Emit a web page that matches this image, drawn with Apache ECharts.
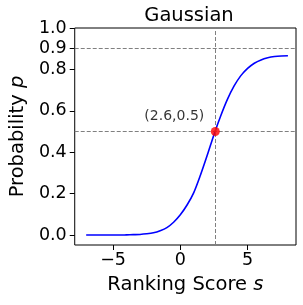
<!DOCTYPE html>
<html>
<head>
<meta charset="utf-8">
<script src="https://cdn.jsdelivr.net/npm/echarts@6/dist/echarts.min.js"></script>
<style>html,body{margin:0;padding:0;background:#fff;}#c{width:303px;height:305px;}</style>
</head>
<body>
<div id="c"></div>
<script>
const xs = [-7,-6.5,-6,-5.5,-5,-4.5,-4,-3.5,-3,-2.5,-2,-1.5,-1,-0.5,0,0.5,1,1.5,2,2.5,3,3.5,4,4.5,5,5.5,6,6.5,7,7.5,8];
const ps = [0,0,0,0,0,0,0.001,0.002,0.003,0.006,0.011,0.021,0.036,0.062,0.098,0.145,0.205,0.29,0.385,0.485,0.575,0.655,0.72,0.77,0.805,0.83,0.846,0.856,0.862,0.865,0.866];
const point = [2.6, 0.5];
const hLines = [0.5, 0.9];
const vLines = [2.6];
const xTicks = [-5, 0, 5];
const yTicks = [0, 0.2, 0.4, 0.6, 0.8, 0.9, 1.0];

const font = 'DejaVu Sans';
const chart = echarts.init(document.getElementById('c'), null, {renderer: 'canvas'});
chart.setOption({
  animation: false,
  title: {text: 'Gaussian', left: 184, top: 1, textAlign: 'center',
    textStyle: {fontFamily: font, fontSize: 19.5, fontWeight: 'normal', color: '#000'}},
  grid: {left: 73, right: 7, top: 28, bottom: 60, show: true, borderColor: '#000', borderWidth: 1, backgroundColor: 'transparent'},
  xAxis: {
    type: 'value', min: -7.85, max: 8.6,
    name: '{a|Ranking Score }{b|s}', nameLocation: 'middle', nameGap: 30,
    nameTextStyle: {rich: {a: {fontFamily: font, fontSize: 19.5, color: '#000'}, b: {fontFamily: font, fontSize: 19.5, fontStyle: 'italic', color: '#000'}}},
    axisLine: {show: false, onZero: false},
    splitLine: {show: false},
    axisTick: {show: true, inside: false, length: 5, lineStyle: {color: '#000'}, customValues: xTicks},
    axisLabel: {customValues: xTicks, margin: 6, fontFamily: font, fontSize: 17.5, color: '#000',
      formatter: v => (v < 0 ? '\u2212' + Math.abs(v) : String(v))}
  },
  yAxis: {
    type: 'value', min: -0.048, max: 1.0,
    name: '{a|Probability }{b|p}', nameLocation: 'middle', nameGap: 45, nameRotate: 90,
    nameTextStyle: {rich: {a: {fontFamily: font, fontSize: 19.5, color: '#000'}, b: {fontFamily: font, fontSize: 19.5, fontStyle: 'italic', color: '#000'}}},
    axisLine: {show: false, onZero: false},
    splitLine: {show: false},
    axisTick: {show: true, inside: false, length: 5, lineStyle: {color: '#000'}, customValues: yTicks},
    axisLabel: {customValues: yTicks, margin: 8, fontFamily: font, fontSize: 17.5, color: '#000',
      formatter: v => v.toFixed(1)}
  },
  series: [
    {
      type: 'line', data: xs.map((x, i) => [x, ps[i]]), smooth: 0.3, showSymbol: false,
      lineStyle: {color: '#0000ff', width: 1.6},
      markLine: {
        silent: true, symbol: 'none', label: {show: false},
        lineStyle: {color: '#808080', type: [4, 2], width: 1},
        data: hLines.map(v => ({yAxis: v})).concat(vLines.map(v => ({xAxis: v})))
      },
      z: 3
    },
    {
      type: 'scatter', data: [point], symbolSize: 9, itemStyle: {color: '#ff0000'}, z: 5,
      label: {show: true, position: 'inside', offset: [-41, -15], formatter: '(' + point[0] + ',' + point[1] + ')',
        fontFamily: font, fontSize: 14, color: '#000'}
    }
  ]
});
</script>
</body>
</html>
